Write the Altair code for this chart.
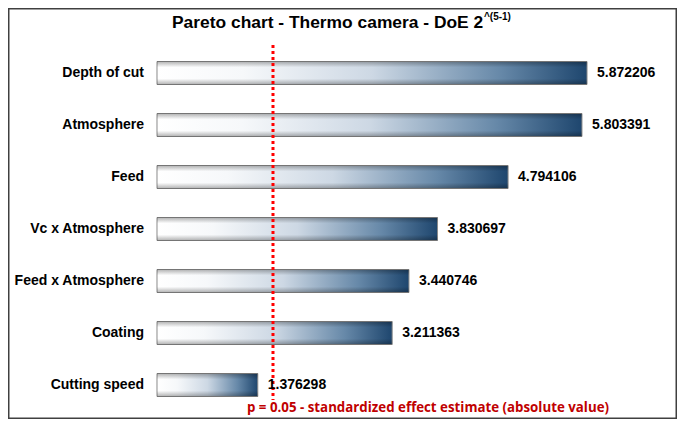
import altair as alt
import pandas as pd

factors = ["Depth of cut", "Atmosphere", "Feed", "Vc x Atmosphere",
           "Feed x Atmosphere", "Coating", "Cutting speed"]
effects = [5.872206, 5.803391, 4.794106, 3.830697, 3.440746, 3.211363, 1.376298]
value_labels = ["5.872206", "5.803391", "4.794106", "3.830697", "3.440746", "3.211363", "1.376298"]
threshold = 1.584

df = pd.DataFrame({"factor": factors, "effect": effects, "label": value_labels, "zero": [0.0] * len(factors)})

W, H = 669, 411
xscale = alt.Scale(domain=[-2.0347, 7.1010], range=[0, W], nice=False, zero=False)
yscale = alt.Scale(domain=factors, range=[39, 403], paddingInner=0, paddingOuter=0)

X = alt.X("effect:Q", scale=xscale, axis=None)
Y = alt.Y("factor:N", scale=yscale, axis=None, sort=factors)

base = alt.Chart(df)

grad_h = alt.Gradient(
    gradient="linear",
    stops=[
        alt.GradientStop(color="#ffffff", offset=0),
        alt.GradientStop(color="#f6f8fa", offset=0.2),
        alt.GradientStop(color="#cdd8e4", offset=0.5),
        alt.GradientStop(color="#6688a8", offset=0.8),
        alt.GradientStop(color="#1e466e", offset=1),
    ],
    x1=0, x2=1, y1=0, y2=0,
)
grad_v = alt.Gradient(
    gradient="linear",
    stops=[
        alt.GradientStop(color="rgba(0,0,0,0.3)", offset=0),
        alt.GradientStop(color="rgba(0,0,0,0)", offset=0.25),
        alt.GradientStop(color="rgba(0,0,0,0)", offset=0.75),
        alt.GradientStop(color="rgba(0,0,0,0.3)", offset=1),
    ],
    x1=0, x2=0, y1=0, y2=1,
)

bars = base.mark_bar(size=23, fill=grad_h, stroke="#8a8a8a", strokeWidth=1).encode(
    x=alt.X("zero:Q", scale=xscale, axis=None), x2="effect:Q", y=Y
)
shade = base.mark_bar(size=23, fill=grad_v).encode(
    x=alt.X("zero:Q", scale=xscale, axis=None), x2="effect:Q", y=Y
)

names = base.mark_text(align="right", baseline="middle", dx=-13, font="Liberation Sans",
                       fontWeight="bold", fontSize=14, color="#000000").encode(
    x=alt.X("zero:Q", scale=xscale, axis=None), y=Y, text="factor:N"
)
vals = base.mark_text(align="left", baseline="middle", dx=10, font="Liberation Sans",
                      fontWeight="bold", fontSize=14, color="#000000").encode(
    x=X, y=Y, text="label:N"
)

rule_df = pd.DataFrame({"t": [threshold]})
rule = alt.Chart(rule_df).mark_rule(color="#ff0000", strokeWidth=3, strokeDash=[3, 3]).encode(
    x=alt.X("t:Q", scale=xscale, axis=None), y=alt.value(37), y2=alt.value(392)
)

title_df = pd.DataFrame({"t": ["Pareto chart - Thermo camera - DoE 2"]})
title = alt.Chart(title_df).mark_text(align="left", baseline="alphabetic", font="Liberation Sans",
                                      fontWeight="bold", fontSize=17.4, color="#000000").encode(
    x=alt.value(164), y=alt.value(20), text="t:N"
)
sup_df = pd.DataFrame({"t": ["^(5-1)"]})
sup = alt.Chart(sup_df).mark_text(align="left", baseline="alphabetic", font="Liberation Sans",
                                  fontWeight="bold", fontSize=10, color="#000000").encode(
    x=alt.value(476), y=alt.value(12), text="t:N"
)
note_df = pd.DataFrame({"t": ["p = 0.05 - standardized effect estimate (absolute value)"]})
note = alt.Chart(note_df).mark_text(align="left", baseline="alphabetic", font="Open Sans",
                                    fontWeight="bold", fontSize=13.3, color="#c00000").encode(
    x=alt.value(239), y=alt.value(404), text="t:N"
)

chart = alt.layer(bars, shade, rule, names, vals, title, sup, note).properties(
    width=W, height=H, padding=0, autosize=alt.AutoSizeParams(type="none"),
    background="#ffffff",
).configure_view(stroke="#404040", strokeWidth=3)

chart.save("out.html", embed_options={"renderer": "svg", "actions": False})
